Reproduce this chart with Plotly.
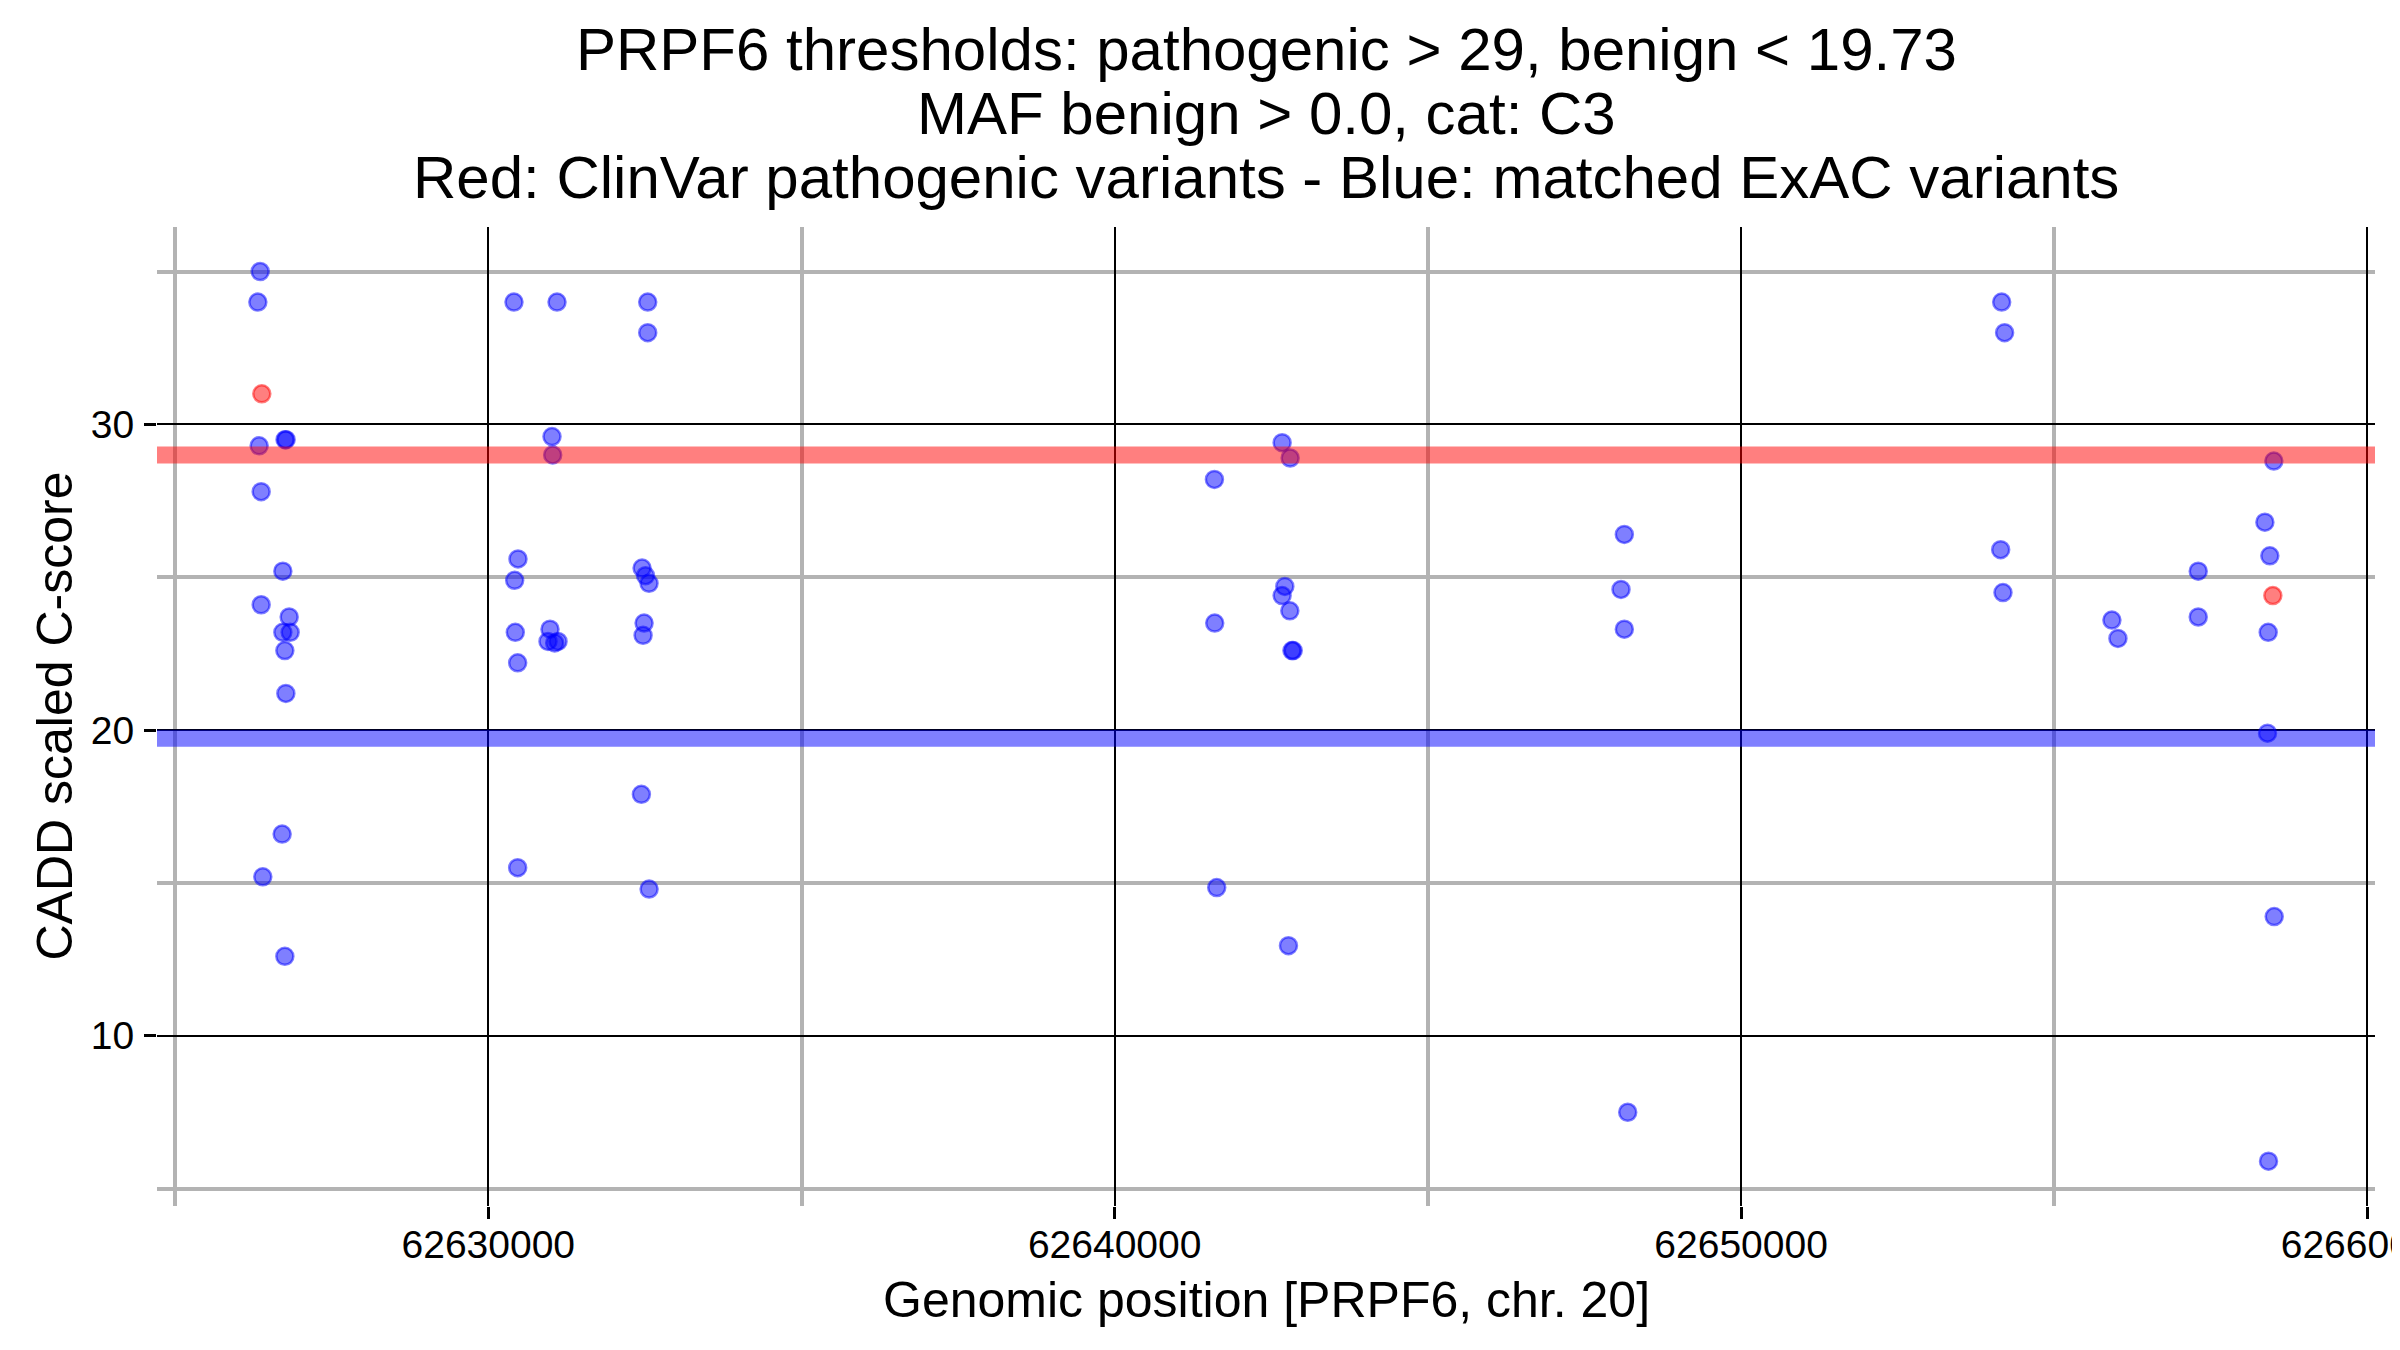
import plotly.graph_objects as go

# ---------------- data ----------------
exac_pos = [
    62626358, 62626321, 62626342, 62626755, 62626772, 62626374, 62626720, 62626374,
    62626821, 62626720, 62626837, 62626752, 62626768, 62626709, 62626400, 62626752,
    62630410, 62631097, 62631017, 62631028, 62630474, 62630421, 62630431, 62630469,
    62630985, 62630953, 62631060, 62631113, 62630469,
    62632545, 62632545, 62632455, 62632510, 62632566, 62632487, 62632471, 62632444, 62632567,
    62642673, 62642801, 62641592, 62642716, 62642673, 62642796, 62641597, 62642830,
    62642850, 62641629, 62642774,
    62648136, 62648083, 62648136, 62648190,
    62654160, 62654207, 62654144, 62654181,
    62655920, 62656016, 62657298, 62657298,
    62658505, 62658362, 62658441, 62658415, 62658404, 62658511, 62658420,
]
exac_score = [
    35.0, 34.0, 29.3, 29.5, 29.5, 27.8, 25.2, 24.1,
    23.7, 23.2, 23.2, 22.6, 21.2, 16.6, 15.2, 12.6,
    34.0, 34.0, 29.6, 29.0, 25.6, 24.9, 23.2, 22.2,
    23.3, 22.9, 22.85, 22.9, 15.5,
    34.0, 33.0, 25.3, 25.05, 24.8, 23.5, 23.1, 17.9, 14.8,
    29.4, 28.9, 28.2, 24.7, 24.4, 23.9, 23.5, 22.6,
    22.6, 14.85, 12.95,
    26.4, 24.6, 23.3, 7.5,
    34.0, 33.0, 25.9, 24.5,
    23.6, 23.0, 25.2, 23.7,
    28.8, 26.8, 25.7, 23.2, 19.9, 13.9, 5.9,
]
clinvar_pos = [62626384, 62658489]
clinvar_score = [31.0, 24.4]

pathogenic_threshold = 29
benign_threshold = 19.73

title_lines = [
    "PRPF6 thresholds: pathogenic > 29, benign < 19.73",
    "MAF benign > 0.0, cat: C3",
    "Red: ClinVar pathogenic variants - Blue: matched ExAC variants",
]
x_title = "Genomic position [PRPF6, chr. 20]"
y_title = "CADD scaled C-score"

# ---------------- figure ----------------
FONT = "Liberation Sans, Arial, Helvetica, sans-serif"
W, H = 2400, 1350
ML, MR, MT, MB = 149, 33, 219, 152
PH = H - MT - MB
PW = W - ML - MR
SCREEN_TOP = MT + 8  # page body offset

fig = go.Figure()
fig.add_trace(go.Scatter(
    x=exac_pos, y=exac_score, mode="markers", name="ExAC",
    marker=dict(size=17, color="rgba(0,0,255,0.5)",
                line=dict(width=2.5, color="rgba(0,0,255,0.5)")),
    showlegend=False,
))
fig.add_trace(go.Scatter(
    x=clinvar_pos, y=clinvar_score, mode="markers", name="ClinVar",
    marker=dict(size=17, color="rgba(255,0,0,0.5)",
                line=dict(width=2.5, color="rgba(255,0,0,0.5)")),
    showlegend=False,
))

for yv, col in [(pathogenic_threshold, "rgba(255,0,0,0.5)"),
                (benign_threshold, "rgba(0,0,255,0.5)")]:
    fig.add_shape(type="line", xref="paper", x0=0, x1=1, yref="y", y0=yv, y1=yv,
                  line=dict(color=col, width=17), layer="above")

def ypx(py):
    return 1 + (SCREEN_TOP - py) / PH

anns = []
for txt, cy in zip(title_lines, [49.5, 113.5, 177.5]):
    anns.append(dict(text=txt, xref="paper", yref="paper", x=0.5, y=ypx(cy),
                     xanchor="center", yanchor="middle", showarrow=False,
                     font=dict(family=FONT, size=60, color="black")))
anns.append(dict(text=x_title, xref="paper", yref="paper", x=0.5, y=ypx(1300),
                 xanchor="center", yanchor="middle", showarrow=False,
                 font=dict(family=FONT, size=50, color="black")))
anns.append(dict(text=y_title, xref="paper", yref="paper", x=(54 - (ML + 8)) / PW, y=0.5,
                 xanchor="center", yanchor="middle", showarrow=False, textangle=-90,
                 font=dict(family=FONT, size=50, color="black")))

fig.update_layout(
    width=W, height=H,
    margin=dict(l=ML, r=MR, t=MT, b=MB, autoexpand=False),
    paper_bgcolor="white", plot_bgcolor="white",
    font=dict(family=FONT, color="black"),
    annotations=anns,
    showlegend=False,
)
fig.update_xaxes(
    range=[62624711, 62660120], tick0=62630000, dtick=10000, tickformat="d",
    showgrid=True, gridcolor="black", gridwidth=1.5,
    minor=dict(tick0=62625000, dtick=5000, showgrid=True, gridcolor="#b3b3b3",
               gridwidth=4, ticks=""),
    ticks="outside", ticklen=12, tickwidth=3, tickcolor="black",
    tickfont=dict(family=FONT, size=39, color="black"),
    ticklabeloverflow="allow", ticklabelstandoff=-8,
    showline=False, zeroline=False, automargin=False,
)
fig.update_yaxes(
    range=[4.434, 36.456], tick0=0, dtick=10,
    showgrid=True, gridcolor="black", gridwidth=1.5,
    minor=dict(tick0=0, dtick=5, showgrid=True, gridcolor="#b3b3b3",
               gridwidth=4, ticks=""),
    ticks="outside", ticklen=12, tickwidth=3, tickcolor="black",
    tickfont=dict(family=FONT, size=39, color="black"),
    ticklabelstandoff=2,
    showline=False, zeroline=False, automargin=False,
)

fig.write_html("out.html")
